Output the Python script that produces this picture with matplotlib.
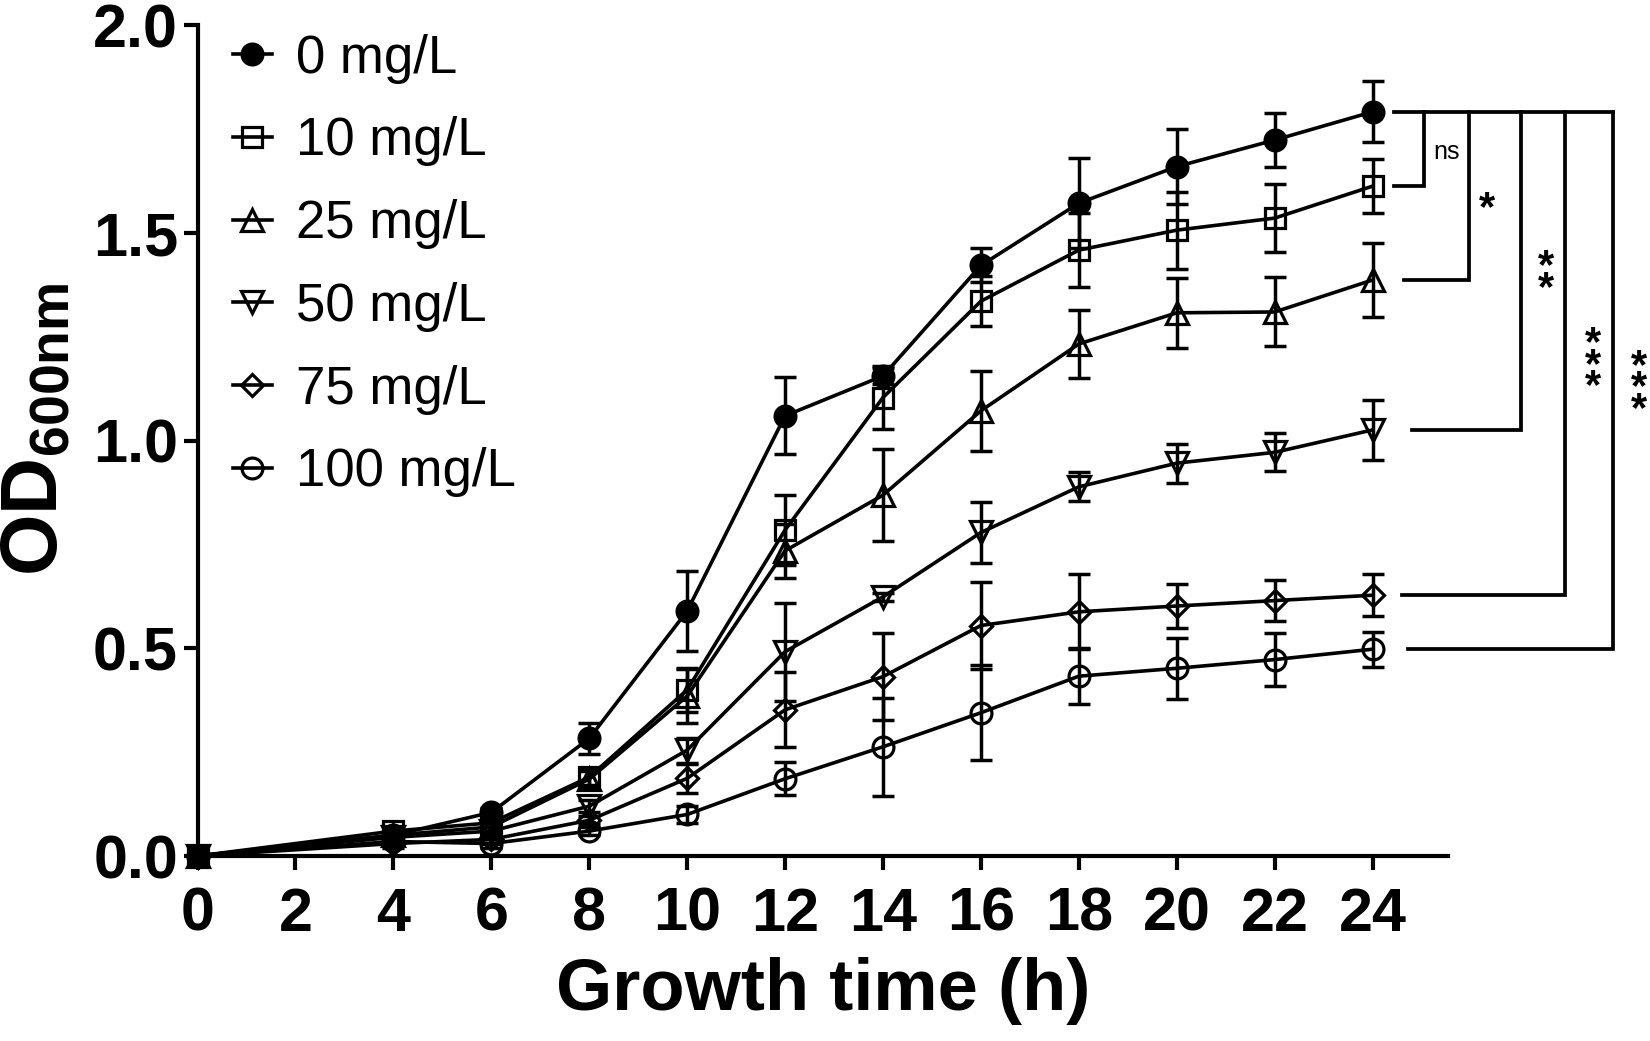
import matplotlib
matplotlib.use('Agg')
import matplotlib.pyplot as plt

plt.rcParams['font.family'] = 'Liberation Sans'
plt.rcParams['mathtext.fontset'] = 'custom'
plt.rcParams['mathtext.rm'] = 'Liberation Sans'
plt.rcParams['mathtext.bf'] = 'Liberation Sans:bold'

# growth time (h) and OD600 means / error bars per concentration
hours = [0, 4, 6, 8, 10, 12, 14, 16, 18, 20, 22, 24]

od_0 = [0, 0.05, 0.105, 0.283, 0.59, 1.06, 1.156, 1.422, 1.572, 1.66, 1.724, 1.792]
err_0 = [0, 0.01, 0.01, 0.038, 0.097, 0.093, 0.02, 0.041, 0.108, 0.09, 0.066, 0.073]
od_10 = [0, 0.06, 0.08, 0.19, 0.40, 0.785, 1.104, 1.336, 1.459, 1.507, 1.536, 1.613]
err_10 = [0, 0.01, 0.01, 0.02, 0.053, 0.085, 0.075, 0.06, 0.09, 0.093, 0.082, 0.065]
od_25 = [0, 0.05, 0.07, 0.185, 0.385, 0.735, 0.869, 1.072, 1.233, 1.308, 1.31, 1.387]
err_25 = [0, 0.01, 0.01, 0.02, 0.065, 0.065, 0.11, 0.097, 0.082, 0.084, 0.083, 0.09]
od_50 = [0, 0.045, 0.06, 0.12, 0.255, 0.492, 0.624, 0.779, 0.889, 0.946, 0.972, 1.026]
err_50 = [0, 0.01, 0.01, 0.015, 0.03, 0.118, 0.01, 0.073, 0.035, 0.047, 0.046, 0.073]
od_75 = [0, 0.03, 0.04, 0.086, 0.187, 0.352, 0.432, 0.555, 0.588, 0.602, 0.615, 0.628]
err_75 = [0, 0.01, 0.01, 0.01, 0.035, 0.09, 0.105, 0.104, 0.09, 0.052, 0.05, 0.05]
od_100 = [0, 0.035, 0.03, 0.06, 0.1, 0.186, 0.263, 0.345, 0.433, 0.452, 0.473, 0.498]
err_100 = [0, 0.01, 0.01, 0.01, 0.02, 0.04, 0.118, 0.115, 0.068, 0.074, 0.064, 0.042]

labels = ['0 mg/L', '10 mg/L', '25 mg/L', '50 mg/L', '75 mg/L', '100 mg/L']
series = [od_0, od_10, od_25, od_50, od_75, od_100]
errors = [err_0, err_10, err_25, err_50, err_75, err_100]
markers = ['o', 's', '^', 'v', 'D', 'o']
msizes = [15, 14, 16, 16, 11.5, 15]
filled = [True, False, False, False, False, False]

# significance vs 0 mg/L at 24 h
sig_labels = ['ns', '*', '**', '***', '***']
sig_vx = [25.04, 25.97, 27.03, 27.93, 28.9]
sig_start = [24.44, 24.64, 24.81, 24.6, 24.73]
sig_text_x = [25.51, 26.34, 27.54, 28.51, 29.44]
sig_text_y = [1.696, 1.581, 1.418, 1.211, 1.156]

fig = plt.figure(figsize=(16.5, 10.41), dpi=100)
ax = fig.add_axes([0.1197, 0.1777, 0.7579, 0.7979])

for od, err, m, ms, f, lab in zip(series, errors, markers, msizes, filled, labels):
    ax.errorbar(hours, od, yerr=err, fmt='none', ecolor='black', elinewidth=2.5,
                capsize=8, capthick=2.5, clip_on=False, zorder=2)
    ax.plot(hours, od, color='black', lw=2.6, marker=m, ms=ms,
            mfc='black' if f else 'none', mec='black', mew=2.3,
            label=lab, clip_on=False, zorder=3)

# brackets
top = od_0[-1]
ax.plot([sig_start[0], sig_vx[-1]], [top, top], color='black', lw=2.7,
        clip_on=False, solid_capstyle='projecting')
for od, vx, x0 in zip(series[1:], sig_vx, sig_start):
    ax.plot([vx, vx, x0], [top, od[-1], od[-1]], color='black', lw=2.7,
            clip_on=False, solid_joinstyle='miter')

# stars stacked vertically as one multi-line text
star_gap = 0.045
first_off = 0.0246
for lab, tx, ty in zip(sig_labels, sig_text_x, sig_text_y):
    if lab == 'ns':
        ax.text(tx, ty, lab, fontsize=18, ha='center', va='center', clip_on=False)
        continue
    n = len(lab)
    ytop = ty + first_off + (n - 1) / 2 * star_gap
    ax.text(tx, ytop, '\n'.join('*' * n), fontsize=30, fontweight='bold',
            ha='center', va='top', linespacing=0.404, clip_on=False)

ax.set_xlim(0, 25.54)
ax.set_ylim(0, 2.0)
ax.set_xticks(range(0, 25, 2))
ax.set_yticks([0, 0.5, 1.0, 1.5, 2.0])
ax.set_yticklabels(['0.0', '0.5', '1.0', '1.5', '2.0'])

for s in ['top', 'right']:
    ax.spines[s].set_visible(False)
for s in ['left', 'bottom']:
    ax.spines[s].set_linewidth(3)
ax.tick_params(direction='out', length=10, width=3, labelsize=44)
ax.tick_params(axis='x', pad=12)
ax.tick_params(axis='y', pad=4)
for t in ax.get_xticklabels() + ax.get_yticklabels():
    t.set_fontweight('bold')

ax.set_xlabel('Growth time (h)', fontsize=52, fontweight='bold', labelpad=10)
fig.text(0.0225, 0.588, r'$\mathbf{OD}_{\mathbf{600nm}}$', fontsize=57,
         rotation=90, ha='center', va='center')

ax.legend(loc='upper left', bbox_to_anchor=(0.028, 0.99), frameon=False,
          fontsize=38, handlelength=0.75, handletextpad=0.45, labelspacing=0.62,
          borderpad=0, borderaxespad=0)

fig.savefig('out.png', dpi=100)
